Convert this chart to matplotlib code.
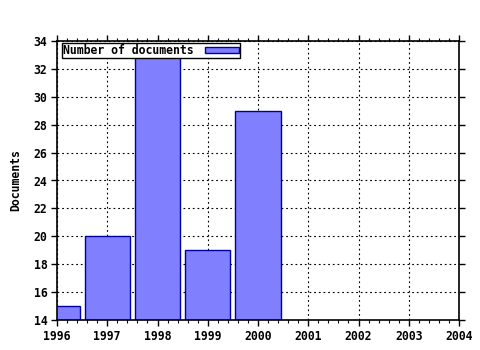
import matplotlib
matplotlib.use("Agg")
import matplotlib.pyplot as plt
from matplotlib.ticker import MultipleLocator

years = [1996, 1997, 1998, 1999, 2000]
documents = [15, 20, 33, 19, 29]
xticks = list(range(1996, 2005))
yticks = list(range(14, 35, 2))

plt.rcParams['font.family'] = ['DejaVu Sans Mono']
plt.rcParams['font.weight'] = 'bold'
plt.rcParams['font.size'] = 8.3

fig = plt.figure(figsize=(4.8, 3.5), dpi=100)
ax = fig.add_axes([57 / 480, 1 - 320 / 350, 402 / 480, 279 / 350])

ax.bar(years, [d - 14 for d in documents], bottom=14, width=0.9,
       color='#8080ff', edgecolor='#0000a0', linewidth=1,
       label='Number of documents', zorder=2)

ax.set_xlim(1996, 2004)
ax.set_ylim(14, 34)
ax.set_xticks(xticks)
ax.set_yticks(yticks)
ax.xaxis.set_minor_locator(MultipleLocator(0.2))
ax.grid(True, which='major', linestyle=(0, (1.6, 2.6)), color='black', linewidth=0.8, zorder=0)
ax.set_axisbelow(True)

ax.tick_params(axis='both', which='major', direction='out', length=4, width=1,
               top=True, right=True, pad=3)
ax.tick_params(axis='x', which='minor', direction='out', length=2, width=0.8, top=True)
for s in ax.spines.values():
    s.set_linewidth(1.2)

ax.set_ylabel('Documents', fontweight='bold', labelpad=8)

leg = ax.legend(loc='upper left', bbox_to_anchor=(5 / 402, 1 - 2 / 279),
                frameon=True, fancybox=False, borderpad=0.1,
                handlelength=3.0, handleheight=0.45, handletextpad=0.95,
                borderaxespad=0, markerfirst=False)
leg.get_frame().set_edgecolor('black')
leg.get_frame().set_linewidth(1)
leg.get_frame().set_alpha(1)

fig.savefig('out.png', dpi=100)
